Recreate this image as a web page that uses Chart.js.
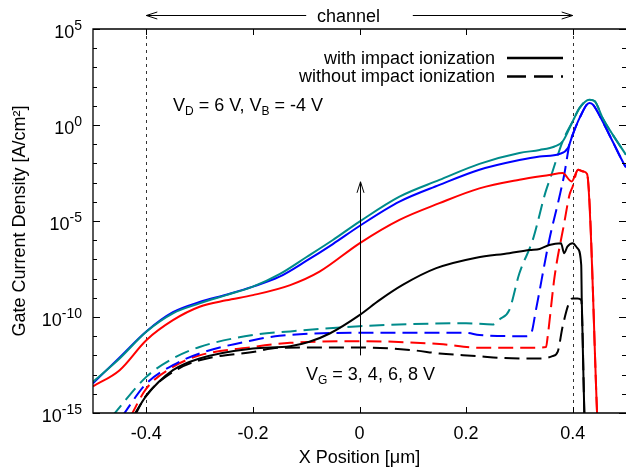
<!DOCTYPE html>
<html>
<head>
<meta charset="utf-8">
<script src="https://cdn.jsdelivr.net/npm/chart.js@4.4.0/dist/chart.umd.min.js"></script>
<style>
  html, body { margin: 0; padding: 0; background: #fff; }
  canvas { display: block; }
</style>
</head>
<body>
<canvas id="gateChart" width="626" height="472"></canvas>
<script>
const xTicks = [-0.4, -0.2, 0, 0.2, 0.4];
const yMajorTicks = [1e-15, 1e-10, 1e-5, 1e0, 1e5];
const yTickExponents = ["-15", "-10", "-5", "0", "5"];
const channelEdges = [-0.4, 0.4];

// with impact ionization
const solid8X = [-0.5, -0.45, -0.4, -0.35, -0.3, -0.25, -0.2, -0.15, -0.1, -0.05, 0, 0.075, 0.15, 0.225, 0.3, 0.338, 0.366, 0.381, 0.4, 0.413, 0.431, 0.441, 0.456, 0.475, 0.5];
const solid8Y = [4.2e-14, 6.9e-13, 1.7e-11, 1.55e-10, 5.1e-10, 1.38e-9, 3.8e-9, 1.7e-8, 1.29e-7, 1.02e-6, 9.3e-6, 1.86e-4, 1.38e-3, 9.5e-3, 3.47e-2, 5.0e-2, 7.6e-2, 0.138, 1.55, 7.8, 20.9, 17.8, 2.34, 0.316, 2.8e-2];

const solid6X = [-0.5, -0.45, -0.4, -0.35, -0.3, -0.25, -0.2, -0.15, -0.1, -0.05, 0, 0.075, 0.15, 0.225, 0.3, 0.338, 0.375, 0.391, 0.4, 0.413, 0.431, 0.438, 0.456, 0.475, 0.497, 0.5];
const solid6Y = [3.55e-14, 7.9e-13, 1.78e-11, 1.78e-10, 6.0e-10, 1.45e-9, 3.8e-9, 1.26e-8, 8.3e-8, 6.3e-7, 5.5e-6, 1.02e-4, 7.6e-4, 4.7e-3, 1.5e-2, 2.3e-2, 3.1e-2, 6.3e-2, 0.316, 2.34, 14.1, 11.5, 1.55, 0.138, 8.5e-3, 6.3e-3];

const solid4X = [-0.5, -0.45, -0.4, -0.35, -0.3, -0.25, -0.2, -0.13, -0.075, 0, 0.075, 0.15, 0.225, 0.3, 0.356, 0.381, 0.398, 0.41, 0.42, 0.427, 0.446];
const solid4Y = [2.45e-14, 1.7e-13, 6.2e-12, 6.8e-11, 3.4e-10, 7.4e-10, 1.38e-9, 4.6e-9, 2.3e-8, 6.9e-7, 1.15e-5, 8.5e-5, 5.0e-4, 1.41e-3, 2.5e-3, 3.16e-3, 1.15e-3, 4.7e-3, 3.8e-3, 2.8e-3, 6.3e-16];

const solid3X = [-0.425, -0.4, -0.35, -0.3, -0.2, -0.13, -0.094, -0.056, 0, 0.0375, 0.081, 0.144, 0.219, 0.281, 0.319, 0.338, 0.356, 0.378, 0.384, 0.39, 0.4, 0.409, 0.416, 0.417, 0.422];
const solid3Y = [6.3e-16, 7.9e-15, 1.7e-13, 6.9e-13, 2.3e-12, 3.0e-12, 5.1e-12, 1.38e-11, 1.26e-10, 7.6e-10, 4.7e-9, 3.5e-8, 1.23e-7, 2.1e-7, 3.1e-7, 3.5e-7, 5.6e-7, 6.9e-7, 2.1e-7, 4.6e-7, 6.9e-7, 3.8e-7, 5.1e-8, 7.6e-10, 6.3e-16];

// without impact ionization
const dashed8X = [-0.465, -0.4, -0.35, -0.3, -0.2, -0.13, 0, 0.2, 0.25, 0.263, 0.281, 0.3, 0.325, 0.349, 0.36, 0.381, 0.4, 0.413, 0.431, 0.441, 0.456, 0.475, 0.5];
const dashed8Y = [6.3e-16, 7.6e-14, 6.9e-13, 2.75e-12, 1.15e-11, 1.78e-11, 3.3e-11, 4.7e-11, 4.1e-11, 7.6e-11, 2.3e-10, 1.9e-8, 1.02e-6, 3.2e-4, 2.5e-3, 0.138, 1.55, 7.8, 20.9, 17.8, 2.34, 0.316, 2.8e-2];

const dashed6X = [-0.446, -0.4, -0.35, -0.3, -0.2, -0.15, 0, 0.2, 0.225, 0.3125, 0.322, 0.331, 0.356, 0.375, 0.384, 0.394, 0.4, 0.413, 0.431, 0.438, 0.456, 0.475, 0.497, 0.5];
const dashed6Y = [6.3e-16, 3.4e-14, 3.1e-13, 1.26e-12, 6.2e-12, 1.05e-11, 1.5e-11, 1.5e-11, 1.15e-11, 1.0e-11, 1.38e-11, 2.3e-10, 1.02e-6, 1.78e-4, 2.5e-3, 0.1, 0.316, 2.34, 14.1, 11.5, 1.55, 0.138, 8.5e-3, 6.3e-3];

const dashed4X = [-0.43, -0.4, -0.35, -0.3, -0.2, -0.13, 0, 0.15, 0.225, 0.325, 0.35, 0.353, 0.366, 0.384, 0.394, 0.4, 0.41, 0.42, 0.427, 0.446];
const dashed4Y = [6.3e-16, 1.86e-14, 2.5e-13, 1.0e-12, 2.75e-12, 4.5e-12, 5.5e-12, 3.9e-12, 2.5e-12, 2.5e-12, 2.75e-12, 9.3e-12, 1.26e-8, 7.6e-6, 2.3e-4, 6.3e-4, 4.7e-3, 3.8e-3, 2.8e-3, 6.3e-16];

const dashed3X = [-0.423, -0.4, -0.35, -0.3, -0.2, -0.15, 0, 0.1, 0.15, 0.225, 0.263, 0.338, 0.362, 0.372, 0.381, 0.394, 0.4, 0.409, 0.416, 0.422];
const dashed3Y = [6.3e-16, 8.3e-15, 1.38e-13, 5.6e-13, 1.5e-12, 2.5e-12, 2.6e-12, 1.86e-12, 1.26e-12, 9.1e-13, 7.4e-13, 6.9e-13, 9.1e-13, 1.58e-12, 3.1e-11, 6.3e-10, 9.3e-10, 9.3e-10, 7.6e-10, 6.3e-16];

const FONT = "'Liberation Sans', Arial, Helvetica, sans-serif";
const TEAL = "#008b8b";
const BLUE = "#0000ff";
const RED = "#ff0000";
const BLACK = "#000000";

function points(xs, ys) {
  return xs.map((x, i) => ({ x, y: ys[i] }));
}

function series(xs, ys, color, dashed) {
  return {
    data: points(xs, ys),
    borderColor: color,
    borderWidth: 2,
    borderDash: dashed ? [15, 7] : [],
    pointRadius: 0,
    fill: false,
    cubicInterpolationMode: "monotone",
    clip: 0
  };
}

function drawRichText(ctx, parts, x, y, size) {
  let cx = x;
  parts.forEach(part => {
    const fs = part.sub ? 12 : size;
    ctx.font = `${fs}px ${FONT}`;
    ctx.fillText(part.text, cx, y + (part.sub ? 4 : 0));
    cx += ctx.measureText(part.text).width;
  });
}

function drawArrow(ctx, x1, y1, x2, y2) {
  // line from (x1,y1) with an open head at (x2,y2)
  const len = Math.hypot(x2 - x1, y2 - y1);
  const dx = (x2 - x1) / len, dy = (y2 - y1) / len;
  const bx = x2 - dx * 11, by = y2 - dy * 11;
  ctx.beginPath();
  ctx.moveTo(x1, y1);
  ctx.lineTo(x2, y2);
  ctx.moveTo(bx - dy * 3.5, by + dx * 3.5);
  ctx.lineTo(x2, y2);
  ctx.lineTo(bx + dy * 3.5, by - dx * 3.5);
  ctx.stroke();
}

const decorPlugin = {
  id: "decor",
  beforeDatasetsDraw(chart) {
    const { ctx, chartArea: area, scales: { x } } = chart;
    ctx.save();
    ctx.strokeStyle = "#333";
    ctx.lineWidth = 1;
    ctx.setLineDash([3, 4]);
    channelEdges.forEach(v => {
      const px = Math.round(x.getPixelForValue(v)) + 0.5;
      ctx.beginPath();
      ctx.moveTo(px, area.top);
      ctx.lineTo(px, area.bottom);
      ctx.stroke();
    });
    ctx.restore();
  },
  afterDatasetsDraw(chart) {
    const { ctx, chartArea: area, scales: { x, y } } = chart;
    ctx.save();
    ctx.strokeStyle = BLACK;
    ctx.fillStyle = BLACK;

    // frame (right edge falls off the picture)
    ctx.lineWidth = 1.3;
    ctx.beginPath();
    ctx.moveTo(area.right + 2, area.top);
    ctx.lineTo(area.left, area.top);
    ctx.lineTo(area.left, area.bottom);
    ctx.lineTo(area.right + 2, area.bottom);
    ctx.stroke();

    // inward ticks
    ctx.lineWidth = 1;
    ctx.beginPath();
    for (let e = -15; e <= 5; e++) {
      const py = Math.round(y.getPixelForValue(Math.pow(10, e))) + 0.5;
      const len = e % 5 === 0 ? 7 : 4;
      ctx.moveTo(area.left, py);
      ctx.lineTo(area.left + len, py);
      ctx.moveTo(area.right, py);
      ctx.lineTo(area.right - len, py);
    }
    xTicks.forEach(v => {
      const px = Math.round(x.getPixelForValue(v)) + 0.5;
      ctx.moveTo(px, area.bottom);
      ctx.lineTo(px, area.bottom - 6);
      ctx.moveTo(px, area.top);
      ctx.lineTo(px, area.top + 6);
    });
    ctx.stroke();

    // y tick labels with superscript exponents
    ctx.textBaseline = "alphabetic";
    ctx.textAlign = "left";
    yMajorTicks.forEach((v, i) => {
      const py = y.getPixelForValue(v);
      ctx.font = `14px ${FONT}`;
      const wSup = ctx.measureText(yTickExponents[i]).width;
      ctx.font = `18px ${FONT}`;
      const wBase = ctx.measureText("10").width;
      const right = 82;
      ctx.fillText("10", right - wSup - wBase, py + 9);
      ctx.font = `14px ${FONT}`;
      ctx.fillText(yTickExponents[i], right - wSup, py + 1);
    });

    // channel arrows
    ctx.lineWidth = 1;
    const arrowY = 15.5;
    drawArrow(ctx, x.getPixelForValue(-0.1), arrowY, x.getPixelForValue(-0.4), arrowY);
    drawArrow(ctx, x.getPixelForValue(0.1), arrowY, x.getPixelForValue(0.4), arrowY);
    ctx.font = `18px ${FONT}`;
    ctx.fillText("channel", 317, 21.5);

    // V_G arrow
    const ax = Math.round(x.getPixelForValue(0)) + 0.5;
    drawArrow(ctx, ax, y.getPixelForValue(1e-12), ax, y.getPixelForValue(1.1e-3));

    drawRichText(ctx, [
      { text: "V" }, { text: "D", sub: true }, { text: " = 6 V, V" },
      { text: "B", sub: true }, { text: " = -4 V" }
    ], 173, 111, 18);
    drawRichText(ctx, [
      { text: "V" }, { text: "G", sub: true }, { text: " = 3, 4, 6, 8 V" }
    ], 306, 380, 18);

    // legend
    ctx.font = `18px ${FONT}`;
    ctx.textAlign = "right";
    ctx.fillText("with impact ionization", 495, 64);
    ctx.fillText("without impact ionization", 495, 82);
    ctx.lineWidth = 2.5;
    ctx.beginPath();
    ctx.moveTo(507, 58);
    ctx.lineTo(563, 58);
    ctx.stroke();
    ctx.setLineDash([19, 8]);
    ctx.beginPath();
    ctx.moveTo(507, 76.5);
    ctx.lineTo(563, 76.5);
    ctx.stroke();

    ctx.restore();
  }
};

Chart.defaults.font.family = FONT;
Chart.defaults.color = BLACK;

new Chart(document.getElementById("gateChart"), {
  type: "line",
  data: {
    datasets: [
      series(solid8X, solid8Y, TEAL, false),
      series(solid6X, solid6Y, BLUE, false),
      series(solid4X, solid4Y, RED, false),
      series(solid3X, solid3Y, BLACK, false),
      series(dashed8X, dashed8Y, TEAL, true),
      series(dashed6X, dashed6Y, BLUE, true),
      series(dashed4X, dashed4Y, RED, true),
      series(dashed3X, dashed3Y, BLACK, true)
    ]
  },
  options: {
    responsive: false,
    animation: false,
    devicePixelRatio: 1,
    layout: { padding: { top: 29, right: 0, bottom: 0, left: 0 } },
    plugins: {
      legend: { display: false },
      tooltip: { enabled: false }
    },
    scales: {
      x: {
        type: "linear",
        min: -0.5,
        max: 0.5,
        afterBuildTicks: scale => {
          scale.ticks = xTicks.map(v => ({ value: v }));
        },
        afterFit: scale => {
          scale.height = 59;
        },
        grid: { display: false, drawTicks: false },
        border: { display: false },
        ticks: {
          font: { size: 18 },
          color: BLACK,
          padding: 10,
          maxRotation: 0,
          callback: v => String(v)
        },
        title: {
          display: true,
          text: "X Position [μm]",
          font: { size: 18 },
          color: BLACK,
          padding: { top: 0, bottom: 3 }
        }
      },
      y: {
        type: "logarithmic",
        min: 1e-15,
        max: 1e5,
        afterFit: scale => {
          scale.width = 93;
        },
        grid: { display: false, drawTicks: false },
        border: { display: false },
        ticks: { display: false },
        title: {
          display: true,
          text: "Gate Current Density [A/cm²]",
          font: { size: 18 },
          color: BLACK,
          padding: { top: 9, bottom: 0 }
        }
      }
    }
  },
  plugins: [decorPlugin]
});
</script>
</body>
</html>
